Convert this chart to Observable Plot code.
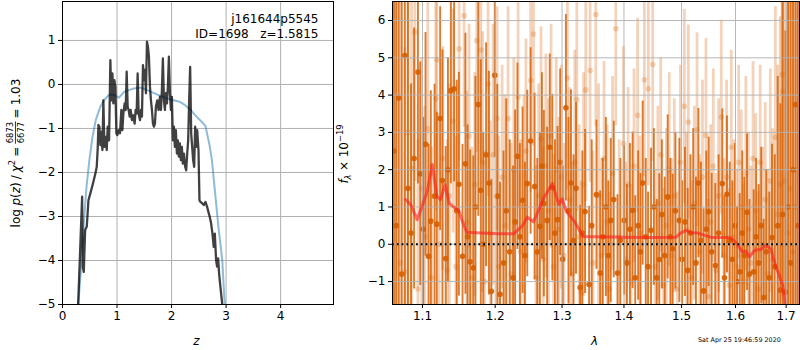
<!DOCTYPE html>
<html>
<head>
<meta charset="utf-8">
<script src="https://cdn.jsdelivr.net/npm/d3@7"></script>
<script src="https://cdn.jsdelivr.net/npm/@observablehq/plot@0.6"></script>
<style>
  html, body { margin: 0; padding: 0; background: #fff; }
  #wrap { position: relative; width: 800px; height: 350px; overflow: hidden; font-family: "DejaVu Sans", sans-serif; }
  #wrap > svg { position: absolute; left: 0; top: 0; }
</style>
</head>
<body>
<div id="wrap"></div>
<script>
// ---------- Left panel: log p(z) ----------
const zTicks = [0, 1, 2, 3, 4];
const logpTicks = [-5, -4, -3, -2, -1, 0, 1];

const zBlack = [0.287,0.335,0.36,0.372,0.39,0.415,0.445,0.476,0.518,0.567,0.604,0.628,0.646,0.659,0.677,0.695,0.713,0.732,0.75,0.768,
0.793,0.811,0.829,0.854,0.878,0.896,0.915,0.933,0.951,0.97,0.988,1.006,1.03,1.055,1.079,1.098,1.116,1.14,1.159,1.177,
1.195,1.213,1.232,1.25,1.274,1.299,1.323,1.341,1.36,1.378,1.396,1.421,1.439,1.457,1.476,1.494,1.512,1.53,1.549,1.567,
1.585,1.604,1.622,1.64,1.659,1.677,1.695,1.713,1.738,1.762,1.787,1.805,1.823,1.841,1.86,1.878,1.896,1.915,1.933,1.951,
1.97,1.988,2.006,2.024,2.043,2.061,2.079,2.098,2.116,2.134,2.152,2.171,2.189,2.207,2.226,2.25,2.268,2.287,2.305,2.323,
2.341,2.36,2.378,2.396,2.415,2.433,2.451,2.47,2.494,2.512,2.53,2.561,2.591,2.622,2.652,2.683,2.701,2.726,2.75,2.774,
2.793,2.817,2.835,2.854,2.872,2.896,2.93];
const logpBlack = [-5.0,-3.39,-2.55,-4.14,-4.26,-3.31,-3.23,-2.63,-2.44,-2.21,-2.02,-1.87,-1.45,-0.92,-0.96,-1.38,-1.08,-1.49,-0.36,-1.42,
-1.19,-1.49,-0.96,-1.27,0.55,-0.36,0.25,-0.43,0.10,-0.05,-1.11,-1.15,-1.04,-1.11,-0.58,-1.04,-0.66,-0.43,-0.58,0.29,
-0.51,-0.58,-0.73,-0.58,-0.81,-0.70,-0.89,-0.58,-0.66,0.25,-0.66,-0.81,-0.58,-0.73,0.44,0.10,0.33,-0.20,0.97,0.86,
0.63,-0.05,-0.36,-0.58,-0.89,-0.96,-0.89,-0.51,-0.36,-0.58,-0.28,-0.58,-0.13,0.59,-0.36,-0.58,-0.20,-0.43,-0.05,0.63,
-0.20,-0.58,-0.28,-1.27,-0.96,-1.42,-1.04,-1.57,-1.27,-1.64,-1.34,-1.72,-1.42,-1.80,-1.57,-1.87,-1.95,-1.57,-1.27,-0.36,
0.40,-1.11,-1.42,-1.72,-1.87,-0.96,-1.42,-1.04,-1.49,-2.63,-2.67,-2.70,-2.74,-2.67,-2.78,-2.93,-3.01,-3.16,-3.39,-3.69,
-3.39,-3.99,-4.14,-3.95,-4.30,-4.60,-5.0];

const zBlue = [0.29,0.35,0.395,0.44,0.49,0.55,0.61,0.69,0.76,0.85,0.92,0.97,1.03,1.08,1.13,1.22,1.31,1.43,1.555,1.74,
1.92,2.04,2.16,2.25,2.35,2.45,2.56,2.62,2.65,2.70,2.74,2.80,2.86,2.93,2.97,2.98];
const logpBlue = [-5.0,-3.99,-3.08,-2.33,-1.75,-1.19,-0.81,-0.52,-0.36,-0.24,-0.23,-0.25,-0.30,-0.24,-0.17,-0.13,-0.09,-0.07,-0.13,-0.23,
-0.32,-0.36,-0.40,-0.47,-0.58,-0.72,-0.86,-0.94,-1.11,-1.4,-1.72,-2.48,-3.24,-3.99,-4.9,-5.0];

// ---------- Right panel: spectrum ----------
const lamTicks = [1.1, 1.2, 1.3, 1.4, 1.5, 1.6, 1.7];
const fluxTicks = [-1, 0, 1, 2, 3, 4, 5, 6];

const darkLam = [
1.063,1.066,1.069,1.073,1.077,1.081,1.085,1.089,1.094,1.097,
1.101,1.104,1.108,1.111,1.116,1.119,1.1235,1.1266,1.131,1.134,
1.138,1.1424,1.146,1.149,1.154,1.158,1.161,1.1645,1.169,1.172,
1.176,1.1795,1.183,1.187,1.191,1.1946,1.1994,1.203,1.207,1.212,
1.216,1.221,1.226,1.229,1.2324,1.236,1.240,1.2435,1.247,1.252,
1.258,1.262,1.266,1.269,1.272,1.277,1.281,1.285,1.289,1.293,
1.297,1.301,1.306,1.310,1.314,1.318,1.322,1.3285,1.332,1.3364,
1.3428,1.347,1.3547,1.3607,1.365,1.370,1.374,1.378,1.383,1.3892,
1.394,1.4004,1.405,1.410,1.4146,1.419,1.424,1.428,1.4317,1.437,
1.441,1.4461,1.451,1.456,1.4605,1.465,1.470,1.4752,1.480,1.4841,
1.489,1.4960,1.501,1.506,1.5110,1.516,1.521,1.526,1.5305,1.535,
1.5401,1.545,1.5493,1.555,1.5617,1.568,1.5749,1.579,1.5837,1.589,
1.594,1.599,1.603,1.6080,1.613,1.617,1.6222,1.627,1.6352,1.640,
1.645,1.650,1.6549,1.660,1.666,1.6715,1.677,1.683,1.6883,1.693,
1.6985,1.704,1.709,1.714,1.7191,1.724];
const darkFlux = [
2.5,0.5,3.92,-0.8,5.06,1.5,0.3,2.3,4.62,1.89,
0.4,2.68,-0.32,0.62,1.29,0.54,3.37,1.71,-0.38,2.0,
4.12,4.17,0.9,1.61,-0.32,2.16,0.2,-0.47,-0.63,1.0,
3.75,1.45,0.0,2.4,1.64,-1.26,4.53,1.29,-1.34,-0.5,
0.9,-0.2,-0.9,0.6,2.36,0.2,1.18,-0.3,1.63,2.77,
1.55,-0.2,0.48,2.1,1.09,0.64,2.6,1.52,0.3,0.66,
2.2,-0.4,3.66,0.9,1.64,0.1,1.5,-1.16,0.3,0.88,
-1.08,0.5,1.33,-0.77,0.2,1.0,-0.3,0.64,1.2,-0.77,
0.1,0.64,-0.5,0.4,0.91,-0.9,0.5,-0.2,1.64,0.2,
-0.6,0.375,1.0,-0.9,-0.41,0.8,-0.3,1.27,0.2,-0.12,
0.9,0.64,-0.4,0.6,-0.7,0.3,1.0,-0.5,1.64,0.1,
-1.25,0.4,0.87,-0.2,-0.57,0.3,1.63,-0.9,1.34,0.1,
-0.4,0.5,-1.0,-0.74,0.3,-0.3,0.86,-0.8,-0.74,0.2,
-0.5,0.5,-1.43,-0.2,-0.9,0.18,-0.6,0.5,-1.23,0.8,
-1.28,1.0,-0.5,2.0,3.75,0.5];
const darkErr = [
9,9,9,8,7,5,4,3.5,3,3,
3,3,3,3.5,3,3,3,3.5,3,3,
2.5,2.5,3.5,3,3,3.5,3,3,3,3.5,
3,3.5,3,3,3,3,2.2,3,3,3,
3,3,3,3,2.5,2.5,2.5,2.5,2.5,2.5,
2.5,2.5,2.5,2.5,2.5,2.5,2.5,2.5,2.5,2.5,
2.5,2.5,2.5,2.5,2.5,2.3,2.3,2.2,2.2,2.2,
2.1,2.3,2.0,2.2,2.1,2.4,2.0,2.2,2.1,2.1,
2.2,2.0,2.1,2.3,2.1,2.2,2.0,2.1,2.2,2.1,
2.0,2.2,2.1,2.1,2.3,2.0,2.1,2.2,2.1,2.0,
2.1,2.2,2.1,2.0,2.2,2.1,2.1,2.3,2.0,2.1,
2.2,2.1,2.0,2.1,2.2,2.1,2.0,2.2,2.1,2.1,
2.1,2.2,2.0,2.1,2.2,2.1,2.1,2.0,2.2,2.1,
2.1,2.1,2.1,2.2,2.3,2.5,3,4,5,6,
7,9,9,9,9,9];

const lightLam = [
1.065,1.071,1.0770,1.081,1.0857,1.0900,1.094,1.099,1.103,1.107,
1.112,1.1177,1.1190,1.122,1.127,1.133,1.136,1.141,1.145,1.1493,
1.1562,1.160,1.163,1.167,1.171,1.1738,1.1795,1.182,1.185,1.1899,
1.193,1.197,1.2028,1.205,1.210,1.214,1.2187,1.223,1.227,1.2334,
1.237,1.242,1.245,1.2522,1.2563,1.260,1.264,1.2677,1.271,1.275,
1.279,1.283,1.287,1.291,1.295,1.299,1.303,1.3084,1.312,1.316,
1.320,1.3232,1.327,1.330,1.334,1.3374,1.3444,1.349,1.3536,1.358,
1.363,1.367,1.372,1.376,1.381,1.3864,1.392,1.3992,1.403,1.407,
1.412,1.417,1.4231,1.427,1.4346,1.4415,1.4490,1.453,1.458,1.463,
1.468,1.473,1.478,1.482,1.487,1.492,1.498,1.5050,1.509,1.5122,
1.518,1.523,1.5280,1.533,1.538,1.5444,1.549,1.553,1.558,1.563,
1.568,1.5730,1.578,1.583,1.588,1.592,1.597,1.602,1.606,1.611,
1.616,1.620,1.625,1.630,1.634,1.639,1.644,1.648,1.653,1.658,
1.663,1.668,1.673,1.6782,1.683,1.688,1.6917,1.6930,1.698,1.703,
1.708,1.713,1.718,1.723];
const lightFlux = [
1.0,-0.5,-0.74,3.0,2.03,5.69,-1.2,1.5,0.2,3.1,
-0.9,3.9,4.95,0.0,2.3,-0.7,1.3,3.3,-0.6,5.24,
6.13,0.6,2.9,-0.9,1.6,5.46,5.21,2.2,-1.0,4.29,
0.3,2.4,3.37,-0.6,1.8,0.5,3.37,-0.8,2.0,3.95,
-0.2,1.0,2.5,4.39,5.64,-0.9,1.3,2.83,-0.4,2.1,
0.9,2.9,-0.6,2.0,0.4,1.8,-0.3,4.46,1.2,-0.8,
2.2,3.88,0.2,-1.3,1.6,4.14,4.66,-0.5,6.16,1.3,
-0.3,2.3,0.6,-1.2,1.9,5.78,0.2,2.70,-0.4,1.6,
-1.0,2.1,3.46,0.3,4.41,4.17,4.82,-0.6,1.1,2.4,
-1.1,0.5,2.0,-0.3,1.3,-1.2,2.2,3.70,0.4,3.28,
-0.9,1.1,3.07,-0.2,1.8,2.92,-1.4,0.6,2.1,-0.7,
1.3,3.41,-0.3,1.8,-1.1,2.6,0.2,-0.6,2.2,1.0,
-1.0,1.9,0.4,-0.5,2.3,0.9,-1.2,2.2,0.0,1.2,
-0.8,1.7,-0.4,2.87,0.8,1.6,4.55,4.10,1.7,0.3,
1.5,-0.2,1.0,2.0];
const lightErr = [
9,8,6,5,4.5,4,4,3.5,3.5,3.5,
3.5,3,3,3.5,3,3.5,3,3,3.5,3,
3,3.5,3,3.5,3,3,3,3.5,3.5,3,
3,3.5,3,3.5,3,3.5,3,3.5,3,3,
3,3,3,3,3,3,3,3,3,3,
3,3,3,3,3,3,3,3,3,3,
3,3,3,3,3,3,3,3,3,3,
2.6,2.6,2.6,2.6,2.6,2.6,2.6,2.6,2.6,2.6,
2.6,2.6,2.6,2.6,2.6,2.6,2.6,2.6,2.6,2.6,
2.6,2.6,2.6,2.6,2.6,2.6,2.6,2.6,2.6,2.6,
2.6,2.6,2.6,2.6,2.6,2.6,2.6,2.6,2.6,2.6,
2.6,2.6,2.6,2.6,2.6,2.6,2.6,2.6,2.6,2.6,
2.6,2.6,2.6,2.6,2.6,2.6,2.6,2.6,2.6,2.6,
2.8,3,3.5,3.5,4,4.5,5.5,5.5,6.5,8,
9,9,9,9];

const modelLam = [1.078,1.085,1.093,1.100,1.106,1.113,1.119,1.124,1.130,1.136,1.142,1.149,1.154,1.160,1.180,1.205,1.227,1.234,1.240,1.247,
1.256,1.265,1.272,1.285,1.290,1.295,1.300,1.307,1.320,1.333,1.40,1.45,1.490,1.498,1.508,1.518,1.530,1.555,1.590,1.600,
1.613,1.620,1.627,1.637,1.649,1.659,1.669,1.679,1.686,1.693,1.698];
const modelFlux = [1.20,1.05,0.66,1.05,1.4,2.14,1.29,1.2,1.6,1.09,1.0,0.9,0.6,0.32,0.30,0.28,0.28,0.4,0.5,0.73,
0.6,0.95,1.25,1.63,1.35,1.07,1.22,0.87,0.6,0.21,0.19,0.18,0.19,0.3,0.37,0.31,0.30,0.18,0.18,0.06,
-0.2,-0.18,-0.34,-0.16,-0.14,-0.03,-0.12,-0.6,-0.83,-1.1,-1.7];

// ---------- tables ----------
const black = zBlack.map((z, i) => ({z, p: logpBlack[i]}));
const blue = zBlue.map((z, i) => ({z, p: logpBlue[i]}));
const dark = darkLam.map((lam, i) => ({lam, f: darkFlux[i], e: darkErr[i]}));
const light = lightLam.map((lam, i) => ({lam, f: lightFlux[i], e: lightErr[i]}));
const model = modelLam.map((lam, i) => ({lam, f: modelFlux[i]}));

const fmtInt = d => d < 0 ? "\u2212" + (-d) : String(d);
const FS = 12;
const gridColor = "#b0b0b0";
const specColor = "#d55e00";

const common = {
  width: 800, height: 350, marginTop: 1, marginBottom: 46,
  style: {background: "transparent", fontFamily: "DejaVu Sans", fontSize: FS + "px", color: "black", overflow: "visible"}
};

const left = Plot.plot({
  ...common,
  marginLeft: 62, marginRight: 467,
  x: {domain: [0, 4.97]},
  y: {domain: [-5, 1.885]},
  marks: [
    Plot.gridX(zTicks, {stroke: gridColor, strokeOpacity: 1, strokeWidth: 1}),
    Plot.gridY(logpTicks, {stroke: gridColor, strokeOpacity: 1, strokeWidth: 1}),
    Plot.line(blue, {x: "z", y: "p", stroke: "#1f77b4", strokeOpacity: 0.5, strokeWidth: 2, clip: true}),
    Plot.line(black, {x: "z", y: "p", stroke: "black", strokeOpacity: 0.75, strokeWidth: 2.3, clip: true}),
    Plot.frame({stroke: "black", strokeWidth: 1}),
    Plot.axisX(zTicks, {tickSize: 4, tickPadding: 3, fontSize: FS, label: null, tickFormat: fmtInt}),
    Plot.axisY(logpTicks, {tickSize: 4, tickPadding: 3, fontSize: FS, label: null, tickFormat: fmtInt})
  ]
});

const right = Plot.plot({
  ...common,
  marginLeft: 392, marginRight: 1,
  x: {type: "log", domain: [1.0612, 1.7274]},
  y: {domain: [-1.615, 6.51]},
  marks: [
    Plot.ruleX(light, {x: "lam", y1: d => d.f - d.e, y2: d => d.f + d.e, stroke: specColor, strokeOpacity: 0.27, strokeWidth: 2.8, clip: true}),
    Plot.dot(light, {x: "lam", y: "f", r: 2.8, fill: specColor, fillOpacity: 0.25, stroke: "none", clip: true}),
    Plot.ruleX(dark, {x: "lam", y1: d => d.f - d.e, y2: d => d.f + d.e, stroke: specColor, strokeOpacity: 0.82, strokeWidth: 1.9, clip: true}),
    Plot.dot(dark, {x: "lam", y: "f", r: 2.8, fill: specColor, fillOpacity: 0.9, stroke: "none", clip: true}),
    Plot.gridX(lamTicks, {stroke: gridColor, strokeOpacity: 0.9, strokeWidth: 1}),
    Plot.gridY(fluxTicks, {stroke: gridColor, strokeOpacity: 0.9, strokeWidth: 1}),
    Plot.line(model, {x: "lam", y: "f", stroke: "#ff1a1a", strokeOpacity: 0.6, strokeWidth: 3, clip: true}),
    Plot.ruleY([0], {stroke: "black", strokeWidth: 1.8, strokeDasharray: "1.8,3"}),
    Plot.frame({stroke: "black", strokeWidth: 1}),
    Plot.axisX(lamTicks, {tickSize: 4, tickPadding: 3, fontSize: FS, label: null, tickFormat: d => d.toFixed(1)}),
    Plot.axisY(fluxTicks, {tickSize: 4, tickPadding: 3, fontSize: FS, label: null, tickFormat: fmtInt})
  ]
});

const wrap = document.getElementById("wrap");
wrap.appendChild(left);
wrap.appendChild(right);

// ---------- text annotations ----------
const svg = d3.select(right);

function richText(sel, x, y, rot, pieces, fs, anchor) {
  const g = sel.append("g").attr("transform", `translate(${x},${y}) rotate(${rot})`)
    .attr("font-family", "DejaVu Sans").attr("fill", "black").attr("text-anchor", "start");
  const inner = g.append("g");
  const small = fs * 0.7;
  let cx = 0;
  for (const p of pieces) {
    if (p.gap) { cx += p.gap; continue; }
    if (p.frac) {
      const a = inner.append("text").attr("font-size", small).attr("y", -fs * 0.6).text(p.frac[0]);
      const b = inner.append("text").attr("font-size", small).attr("y", fs * 0.33).text(p.frac[1]);
      const wa = a.node().getComputedTextLength(), wb = b.node().getComputedTextLength();
      const w = Math.max(wa, wb) + 1;
      a.attr("x", cx + (w - wa) / 2);
      b.attr("x", cx + (w - wb) / 2);
      inner.append("rect").attr("x", cx).attr("y", -fs * 0.42).attr("width", w).attr("height", 0.8);
      cx += w;
      continue;
    }
    const t = inner.append("text")
      .attr("x", cx)
      .attr("y", p.sup ? -fs * 0.42 : p.sub ? fs * 0.25 : 0)
      .attr("font-size", (p.sup || p.sub) ? small : fs)
      .attr("font-style", p.it ? "italic" : null)
      .text(p.t);
    cx += t.node().getComputedTextLength();
  }
  const shift = anchor === "end" ? -cx : anchor === "start" ? 0 : -cx / 2;
  inner.attr("transform", `translate(${shift},0)`);
}

// left y label
richText(svg, 20, 153, -90, [
  {t: "log"}, {gap: 3.5}, {t: "p", it: true}, {t: "("}, {t: "z", it: true}, {t: ")"}, {gap: 3},
  {t: "/"}, {gap: 3}, {t: "\u03c7", it: true}, {t: "2", sup: true}, {gap: 3}, {t: "="}, {gap: 3},
  {frac: ["6873", "6677"]}, {gap: 3}, {t: "="}, {gap: 3}, {t: "1.03"}
], FS, "middle");

// right y label
richText(svg, 348, 154, -90, [
  {t: "f", it: true}, {t: "\u03bb", it: true, sub: true}, {gap: 3.5}, {t: "\u00d7"}, {gap: 3.5}, {t: "10"}, {t: "\u221219", sup: true}
], FS, "middle");

// x labels
svg.append("text").attr("x", 196.5).attr("y", 345).attr("text-anchor", "middle")
  .attr("font-family", "DejaVu Sans").attr("font-size", FS).attr("font-style", "italic").text("z");
svg.append("text").attr("x", 594.6).attr("y", 345).attr("text-anchor", "middle")
  .attr("font-family", "DejaVu Sans").attr("font-size", FS).attr("font-style", "italic").text("\u03bb");

// panel annotation
svg.append("text").attr("x", 318.5).attr("y", 23).attr("text-anchor", "end")
  .attr("font-family", "DejaVu Sans").attr("font-size", FS).text("j161644p5545");
svg.append("text").attr("x", 318.5).attr("y", 38).attr("text-anchor", "end")
  .attr("font-family", "DejaVu Sans").attr("font-size", FS).attr("style", "white-space:pre")
  .text("ID=1698   z=1.5815");

// footer timestamp
svg.append("text").attr("x", 698).attr("y", 342).attr("text-anchor", "start")
  .attr("font-family", "DejaVu Sans").attr("font-size", 6.4).attr("style", "white-space:pre")
  .text("Sat Apr 25 19:46:59 2020");
</script>
</body>
</html>
